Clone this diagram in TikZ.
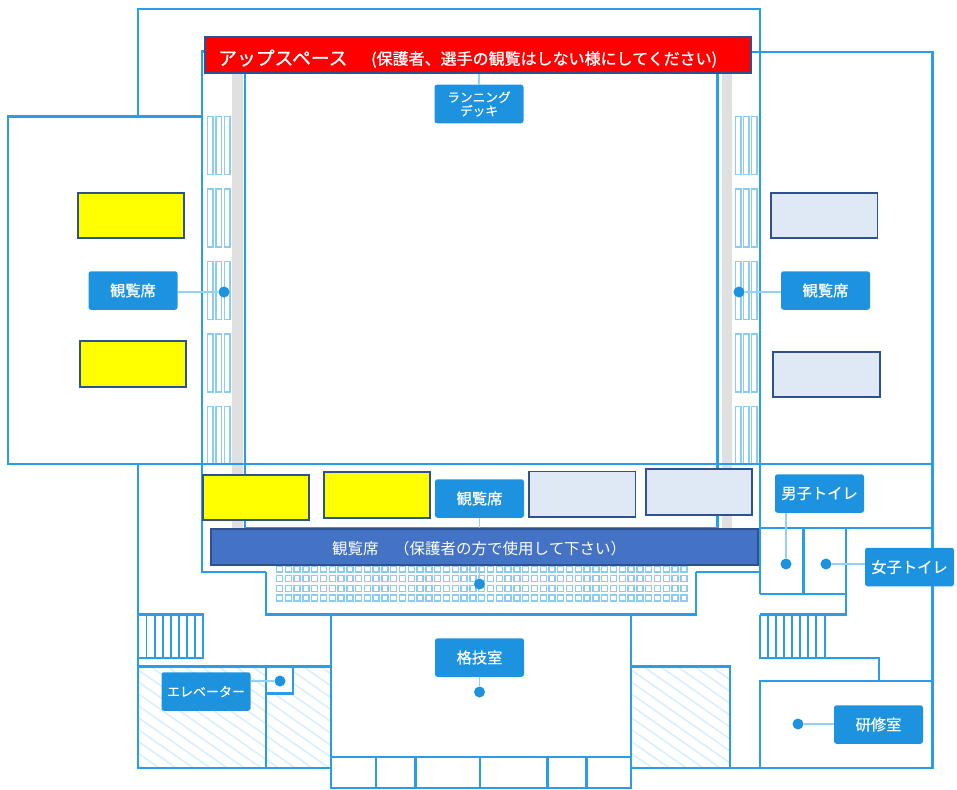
\documentclass[tikz,border=0pt]{standalone}
\usepackage{fontspec}
\setmainfont{Noto Sans CJK JP}
\newfontfamily\medfont[FakeBold=0.35]{Noto Sans CJK JP}
\newfontfamily\bandfont[FakeBold=0.8]{Noto Sans CJK JP}

\definecolor{wallblue}{HTML}{2A9DEA}
\definecolor{seatblue}{HTML}{8CCBF2}
\definecolor{tagblue}{HTML}{1D93DF}
\definecolor{stemblue}{HTML}{93D2F5}
\definecolor{hatchblue}{HTML}{DCEEFB}
\definecolor{edgeblue}{HTML}{2F528F}
\definecolor{paleblue}{HTML}{DEE9F5}
\definecolor{barblue}{HTML}{4472C4}
\definecolor{signyellow}{HTML}{FFFF00}
\definecolor{signred}{HTML}{FF0000}

\tikzset{
    wall/.style={draw=wallblue, line width=2.9pt},
    thinwall/.style={draw=wallblue, line width=1.5pt},
    seat/.style={draw=seatblue, line width=1.4pt},
    hatchline/.style={draw=hatchblue, line width=1.6pt},
    stem/.style={draw=stemblue, line width=1.8pt},
    roomtag/.style={rectangle, rounded corners=2.5pt, fill=tagblue, text=white, inner sep=0pt,
        minimum width=89pt, minimum height=38.5pt, align=center,
        font=\medfont\fontsize{15.3}{16}\selectfont},
    roomdot/.style={circle, fill=tagblue, inner sep=0pt, minimum size=11pt},
    yellowblock/.style={draw=edgeblue, line width=1.1pt, fill=signyellow},
    paleblock/.style={draw=edgeblue, line width=1.1pt, fill=paleblue},
    bandtext/.style={text=white, inner sep=0pt, anchor=west}
}

\begin{document}
\begin{tikzpicture}[x=1pt, y=-1pt]
    \useasboundingbox (0,0) rectangle (957,789);

    % -- Schraffur --
    \begin{scope}
        \clip (138,666) rectangle (331,768) (631,666) rectangle (730,768);
        \foreach \s in {-80,-63,...,740} {
            \draw[hatchline] (\s,660) -- ++(160,112);
        }
    \end{scope}

    % -- graue Streifen --
    \fill[black!12] (232,73) rectangle (243,529);
    \fill[black!12] (722,73) rectangle (732,529);

    % -- Sitzreihen links und rechts --
    \foreach \y in {116.5,189,261.5,334,406.5} {
        \foreach \x in {207.5,216,224.2} {
            \draw[seat] (\x,\y) rectangle ++(5.6,58);
        }
        \foreach \x in {735.2,743.4,751.2} {
            \draw[seat] (\x,\y) rectangle ++(5.6,58);
        }
    }

    % -- Sitzreihen unten --
    \foreach \y in {566,575.3,585.2,594.8} {
        \foreach \n in {0,...,46} {
            \draw[seat] ({276.5+8.79*\n},\y) rectangle ++(6,6);
        }
    }

    % -- Aussenwaende oben --
    \draw[wall] (138,116.5) -- (138,9) -- (760,9) -- (760,594);
    \draw[wall] (750,52) -- (932.5,52) -- (932.5,768) -- (631,768);
    \draw[wall] (8,116.5) rectangle (202,464);
    \draw[wall] (202,464) -- (932.5,464);
    \draw[wall] (760,528) -- (932.5,528);

    % -- Halle --
    \draw[wall] (204,51.5) -- (202,51.5) -- (202,572) -- (266,572);
    \draw[wall] (245,73) -- (717.5,73);
    \draw[wall] (245,73) -- (245,528) -- (717.5,528) -- (717.5,73);
    \draw[wall] (696,572) -- (760,572);
    \draw[wall] (266,572) -- (266,614.5) -- (696,614.5) -- (696,572);

    % -- Toiletten --
    \draw[wall] (760,594) -- (846,594);
    \draw[wall] (803.3,528) -- (803.3,594);
    \draw[wall] (846,528) -- (846,614.5) -- (760,614.5);

    % -- Treppe links --
    \draw[wall] (138,464) -- (138,768) -- (331,768);
    \draw[wall] (138,614.5) -- (203,614.5) -- (203,658) -- (138,658);
    \foreach \x in {146.7,155,163,171,179,187,195} {
        \draw[thinwall] (\x,614.5) -- (\x,658);
    }

    % -- Treppe rechts --
    \draw[wall] (760,614.5) -- (760,658) -- (879,658) -- (879,681);
    \draw[wall] (825,614.5) -- (825,658);
    \foreach \x in {768,776,784,792,800,808,816} {
        \draw[thinwall] (\x,614.5) -- (\x,658);
    }

    % -- Aufzug und Schacht --
    \draw[wall] (138,666.5) -- (331,666.5);
    \draw[wall] (266,666.5) -- (266,768);
    \draw[wall, fill=white] (266,666.5) rectangle (293,693.5);
    \draw[wall] (631,666.5) -- (730,666.5) -- (730,768);

    % -- Kampfsportraum --
    \draw[wall] (331,614.5) -- (331,788) -- (631,788) -- (631,614.5);
    \draw[wall] (331,757) -- (631,757);
    \foreach \x in {376,415.7,480,547.7,586.7} {
        \draw[wall] (\x,757) -- (\x,788);
    }

    % -- Seminarraum --
    \draw[wall] (760,768) -- (760,681) -- (932.5,681);

    % -- Beschriftungen --
    \node[roomtag, font=\medfont\fontsize{12.7}{13.6}\selectfont] (decktag) at (479,104) {ランニング\\デッキ};
    \node[roomtag] (westtag) at (133,290.5) {観覧席};
    \node[roomtag] (easttag) at (825.5,290.5) {観覧席};
    \node[roomtag] (southtag) at (479.5,498.5) {観覧席};
    \node[roomtag] (mentag) at (819.5,493.5) {男子トイレ};
    \node[roomtag] (womentag) at (909.5,567) {女子トイレ};
    \node[roomtag] (martialtag) at (479.5,657.5) {格技室};
    \node[roomtag, font=\medfont\fontsize{13}{14}\selectfont] (lifttag) at (206,691.5) {エレベーター};
    \node[roomtag] (seminartag) at (878.5,724.5) {研修室};

    % -- Punkte --
    \node[roomdot] (westdot) at (224,292) {};
    \node[roomdot] (eastdot) at (739,292) {};
    \node[roomdot] (southdot) at (479.5,584) {};
    \node[roomdot] (mendot) at (786,564) {};
    \node[roomdot] (womendot) at (826,564) {};
    \node[roomdot] (martialdot) at (479.5,692) {};
    \node[roomdot] (liftdot) at (280,681) {};
    \node[roomdot] (seminardot) at (798,724) {};

    % -- Verbindungen --
    \coordinate (deckband) at (479,72);
    \draw[stem] (deckband) -- (decktag);
    \draw[stem] (westtag.east |- westdot) -- (westdot);
    \draw[stem] (easttag.west |- eastdot) -- (eastdot);
    \draw[stem] (southtag) -- (southdot);
    \draw[stem] (mentag.south -| mendot) -- (mendot);
    \draw[stem] (womentag.west |- womendot) -- (womendot);
    \draw[stem] (martialtag) -- (martialdot);
    \draw[stem] (lifttag.east |- liftdot) -- (liftdot);
    \draw[stem] (seminartag.west |- seminardot) -- (seminardot);

    % -- rote Leiste --
    \node[draw=edgeblue, line width=1.1pt, fill=signred, minimum width=546pt, minimum height=36pt,
        inner sep=0pt] (upband) at (478,55) {};
    \node[bandtext, font=\bandfont\fontsize{18.8}{20}\selectfont] (upname) at (218,58) {アップスペース};
    \node[bandtext, font=\bandfont\fontsize{16}{18}\selectfont] (upnote) at (371,59.5) {(保護者、選手の観覧はしない様にしてください)};

    % -- blaue Leiste --
    \node[draw=edgeblue, line width=1.1pt, fill=barblue, minimum width=547pt, minimum height=36pt,
        inner sep=0pt] (seatband) at (484.5,547) {};
    \node[bandtext, font=\fontsize{15.5}{17}\selectfont] (seatnote) at (332,549) {観覧席　（保護者の方で使用して下さい）};

    % -- gelbe Felder --
    \draw[yellowblock] (78,193) rectangle (184,238);
    \draw[yellowblock] (80,341) rectangle (186,387);
    \draw[yellowblock] (203,475) rectangle (309,520);
    \draw[yellowblock] (324,472) rectangle (430,518);

    % -- helle Felder --
    \draw[paleblock] (771,193) rectangle (877.5,238);
    \draw[paleblock] (773,352) rectangle (880,397);
    \draw[paleblock] (529,471.5) rectangle (635.5,517);
    \draw[paleblock] (646,469) rectangle (752,515);
\end{tikzpicture}
\end{document}
